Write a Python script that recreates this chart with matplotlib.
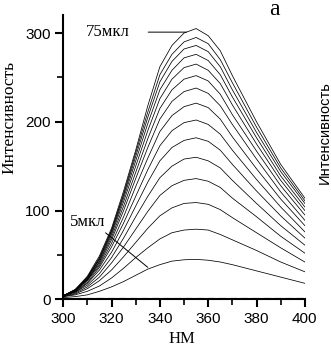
import matplotlib
matplotlib.use("Agg")
import matplotlib.pyplot as plt
from matplotlib.ticker import MultipleLocator

wl = [300, 305, 310, 315, 320, 325, 330, 335, 340, 345, 350, 355, 360,
      365, 370, 380, 390, 400]

# fluorescence spectra, 5..75 mkl
spectra = [
    [2, 3, 5, 9, 14, 20, 27, 34, 39, 43, 44.5, 45, 44, 42, 39, 32, 25, 18],
    [3, 5, 9, 15, 24, 35, 47, 58, 68, 75, 78, 79, 78, 73, 67, 55, 42, 31],
    [3, 6, 12, 21, 33, 48, 64, 80, 94, 103, 108, 109, 107, 101, 92, 75, 58, 42],
    [3, 7, 14, 25, 41, 59, 79, 99, 117, 128, 134, 136, 133, 126, 114, 93, 71, 52],
    [4, 8, 16, 29, 47, 69, 93, 116, 137, 150, 158, 160, 156, 148, 134, 108, 83, 61],
    [4, 8, 18, 33, 53, 78, 105, 132, 156, 171, 179, 182, 178, 168, 152, 122, 94, 69],
    [4, 9, 19, 36, 59, 86, 116, 146, 173, 190, 199, 202, 197, 186, 168, 135, 104, 76],
    [4, 9, 21, 38, 63, 93, 127, 159, 189, 207, 217, 221, 216, 203, 183, 147, 113, 83],
    [4, 10, 22, 40, 67, 100, 136, 171, 203, 223, 234, 238, 232, 218, 197, 158, 121, 89],
    [4, 10, 22, 42, 70, 105, 143, 181, 215, 236, 248, 252, 246, 231, 208, 167, 128, 95],
    [4, 10, 23, 43, 73, 110, 150, 190, 226, 248, 261, 265, 258, 243, 219, 175, 134, 100],
    [4, 10, 24, 45, 75, 114, 156, 198, 236, 258, 272, 276, 269, 253, 228, 182, 139, 104],
    [4, 11, 24, 46, 77, 117, 161, 205, 245, 268, 282, 286, 279, 262, 236, 188, 144, 108],
    [4, 11, 25, 47, 78, 119, 165, 211, 253, 276, 290, 295, 288, 270, 244, 194, 148, 111],
    [4, 11, 26, 49, 80, 122, 168, 218, 262, 286, 300, 305, 297, 280, 252, 200, 152, 114],
]
baseline = [1.5] * len(wl)

serif = "Liberation Serif"
sans = "Liberation Sans"
plt.rcParams["font.family"] = sans

fig = plt.figure(figsize=(3.31, 3.47), dpi=100)
ax = fig.add_axes([0.191, 0.1375, 0.73, 0.8185])

for y in spectra:
    ax.plot(wl, y, color="black", lw=0.55)
ax.plot(wl, baseline, color="black", lw=0.8, dashes=(6, 4))

ax.set_xlim(300, 400)
ax.set_ylim(0, 320)
ax.spines["top"].set_visible(False)
ax.spines["right"].set_visible(False)
for s in ("left", "bottom"):
    ax.spines[s].set_linewidth(1.5)
ax.xaxis.set_major_locator(MultipleLocator(20))
ax.xaxis.set_minor_locator(MultipleLocator(10))
ax.yaxis.set_major_locator(MultipleLocator(100))
ax.yaxis.set_minor_locator(MultipleLocator(50))
ax.tick_params(which="major", direction="out", length=6, width=1.5,
               labelsize=11, pad=3)
ax.tick_params(which="minor", direction="out", length=4, width=1.2)

ax.annotate("75мкл", xy=(351, 301), xytext=(327.7, 301), fontfamily=serif,
            fontsize=12, ha="right", va="center",
            arrowprops=dict(arrowstyle="-", lw=0.7, color="black",
                            shrinkA=11, shrinkB=0))
ax.annotate("5мкл", xy=(335, 36), xytext=(302.9, 87), fontfamily=serif,
            fontsize=12, ha="left", va="center",
            arrowprops=dict(arrowstyle="-", lw=0.7, color="black",
                            shrinkA=0, shrinkB=0,
                            relpos=(0.9, 0.0)))

fig.text(0.03, 0.66, "Интенсивность", fontfamily=serif, fontsize=12.5,
         rotation=90, ha="center", va="center")
fig.text(0.982, 0.617, "Интенсивность", fontfamily=sans, fontsize=10.5,
         rotation=90, ha="center", va="center")
fig.text(0.55, 0.0, "НМ", fontfamily=serif, fontsize=12,
         ha="center", va="bottom")
fig.text(0.83, 0.972, "a", fontfamily=serif, fontsize=17,
         ha="center", va="center")

fig.savefig("out.png", dpi=100)
